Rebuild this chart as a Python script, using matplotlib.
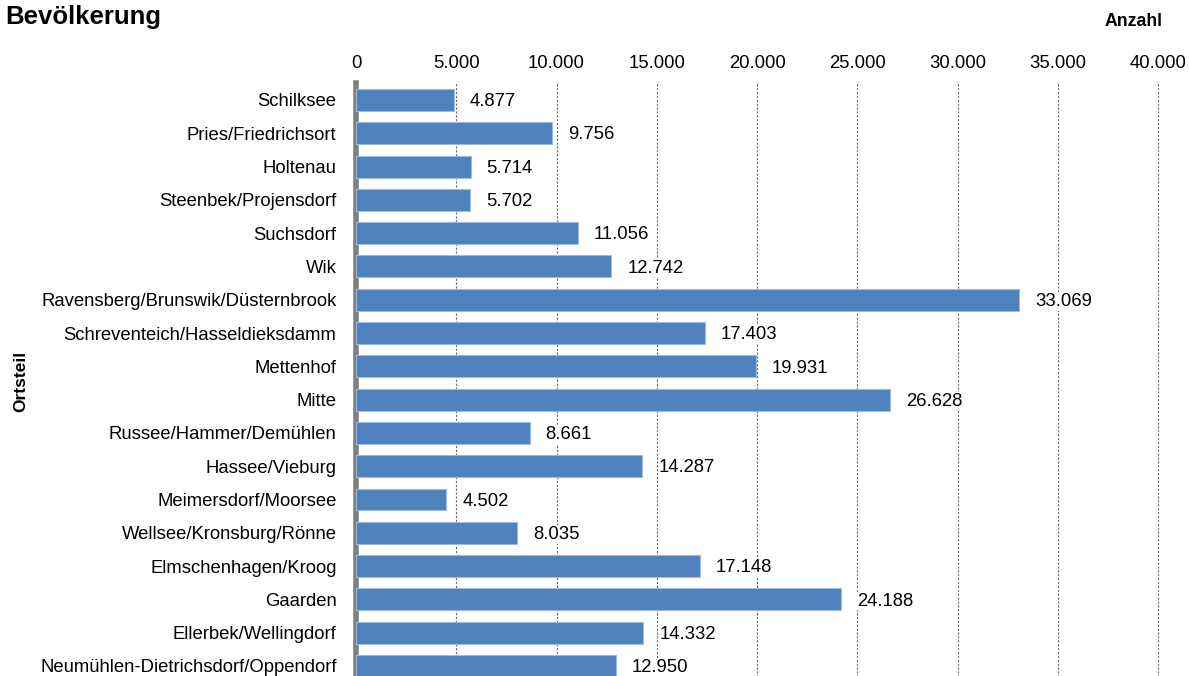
import numpy as np
import matplotlib.pyplot as plt
from matplotlib.ticker import FuncFormatter

ortsteile = ['Schilksee', 'Pries/Friedrichsort', 'Holtenau', 'Steenbek/Projensdorf',
             'Suchsdorf', 'Wik', 'Ravensberg/Brunswik/Düsternbrook',
             'Schreventeich/Hasseldieksdamm', 'Mettenhof', 'Mitte',
             'Russee/Hammer/Demühlen', 'Hassee/Vieburg', 'Meimersdorf/Moorsee',
             'Wellsee/Kronsburg/Rönne', 'Elmschenhagen/Kroog', 'Gaarden',
             'Ellerbek/Wellingdorf', 'Neumühlen-Dietrichsdorf/Oppendorf']
einwohner = [4877, 9756, 5714, 5702, 11056, 12742, 33069, 17403, 19931, 26628,
             8661, 14287, 4502, 8035, 17148, 24188, 14332, 12950]
xticks = [0, 5000, 10000, 15000, 20000, 25000, 30000, 35000, 40000]

plt.rcParams['font.family'] = ['Liberation Sans', 'DejaVu Sans']
fs = 13.3

def dotted(v):
    return '{:,.0f}'.format(v).replace(',', '.')

fig = plt.figure(figsize=(11.89, 6.76), dpi=100)
ax = fig.add_axes([0.2994, -0.0098, 0.6746, 0.8865])

y = np.arange(len(ortsteile))
ax.barh(y, einwohner, height=0.66, color='#4F81BD', edgecolor='#9DBBE0',
        linewidth=0.8, zorder=3)
for yi, v in zip(y, einwohner):
    ax.text(v + 800, yi + 0.05, dotted(v), va='center', ha='left', fontsize=fs,
            zorder=4, bbox=dict(facecolor='white', edgecolor='none', pad=0.5))

ax.set_ylim(len(ortsteile) - 0.5, -0.5)
ax.set_xlim(0, 40000)
ax.set_yticks(y)
ax.set_yticklabels(ortsteile, fontsize=fs)
ax.set_xticks(xticks)
ax.xaxis.set_major_formatter(FuncFormatter(lambda v, _: dotted(v)))
ax.xaxis.tick_top()
ax.tick_params(axis='x', length=0, labelsize=fs, pad=8)
ax.tick_params(axis='y', length=0, pad=14)

# dashed verticals at every major tick except zero
for xv in xticks[1:]:
    ax.axvline(xv, color='#6a6a6a', lw=0.8, ls=(0, (2, 1.5)), zorder=1, clip_on=False)

for s in ['top', 'right', 'bottom']:
    ax.spines[s].set_visible(False)
ax.spines['left'].set_color('#808080')
ax.spines['left'].set_linewidth(4)

fig.text(21 / 1189, 1 - 381 / 676, 'Ortsteil', fontsize=12.5, fontweight='bold',
         rotation=90, ha='center', va='center')
fig.text(0.004, 0.975, 'Bevölkerung', fontsize=18.5, fontweight='bold', va='center')
fig.text(0.978, 0.968, 'Anzahl', fontsize=12.7, fontweight='bold', va='center', ha='right')

fig.savefig('out.png', dpi=100)
